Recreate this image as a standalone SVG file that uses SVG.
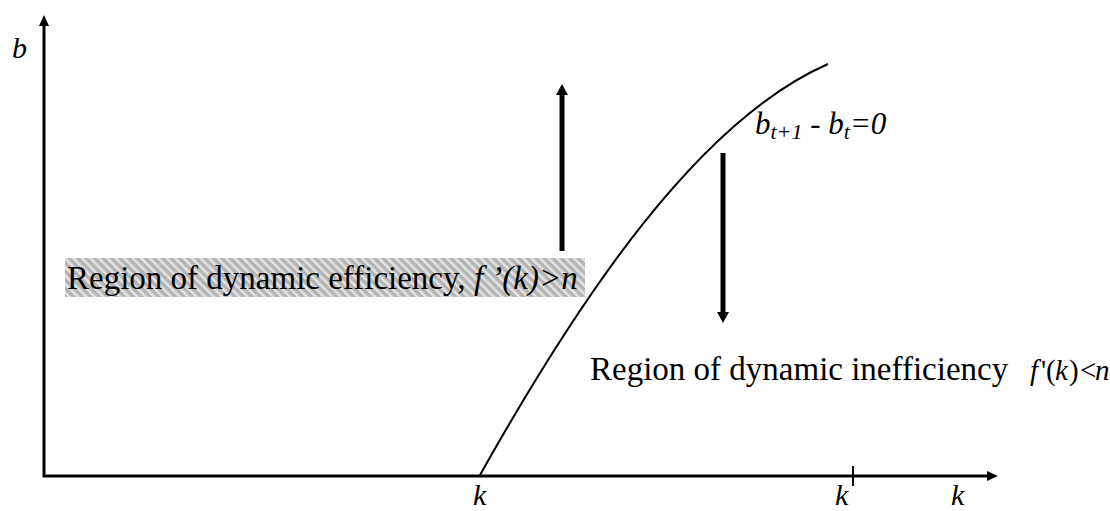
<svg xmlns="http://www.w3.org/2000/svg" width="1110" height="511" viewBox="0 0 1110 511">
<style>
.t{font-family:"Liberation Serif","Times New Roman",serif;fill:#000}
.i{font-style:italic}
.ax{stroke:#000;stroke-width:3;fill:none}
.arr{stroke:#000;stroke-width:5;fill:none}
</style>
<defs>
<pattern id="hatch" width="6" height="6" patternUnits="userSpaceOnUse" patternTransform="rotate(-45)">
<rect width="6" height="6" fill="#b4b4b4"/>
<rect width="2.5" height="6" fill="#e4e4e4"/>
</pattern>
<marker id="axh" markerWidth="11" markerHeight="10" refX="0" refY="5" orient="auto" markerUnits="userSpaceOnUse">
<path d="M0,0 L11,5 L0,10 Z" fill="#000"/>
</marker>
<marker id="ah" markerWidth="11" markerHeight="12" refX="0" refY="6" orient="auto" markerUnits="userSpaceOnUse">
<path d="M0,0 L11,6 L0,12 Z" fill="#000"/>
</marker>
</defs>
<g id="axes">
<line class="ax" x1="44" y1="477" x2="44" y2="26" marker-end="url(#axh)"/>
<line class="ax" x1="43" y1="476" x2="987" y2="476" marker-end="url(#axh)"/>
<line stroke="#000" stroke-width="2" x1="853" y1="466" x2="853" y2="486"/>
<text class="t i" x="12" y="58" font-size="30">b</text>
<text class="t i" x="473" y="505" font-size="30">k</text>
<text class="t i" x="835" y="505" font-size="30">k</text>
<text class="t i" x="951" y="505" font-size="30">k</text>
</g>
<g id="region-efficient">
<rect x="65" y="258" width="520" height="39" fill="url(#hatch)"/>
<text class="t" x="67" y="289" font-size="33">Region of dynamic efficiency, <tspan class="i">f ’(k)&gt;n</tspan></text>
</g>
<g id="connectors">
<path d="M480,475 C580,297 698,121 828,64" stroke="#000" stroke-width="2" fill="none"/>
<line class="arr" x1="562" y1="251" x2="562" y2="95" marker-end="url(#ah)"/>
<line class="arr" x1="723" y1="153" x2="723" y2="312" marker-end="url(#ah)"/>
</g>
<g id="curve-label">
<text class="t i" x="755" y="134" font-size="31">b<tspan font-size="22" dy="5">t+1</tspan><tspan dy="-5"> - b</tspan><tspan font-size="22" dy="5">t</tspan><tspan dy="-5">=0</tspan></text>
</g>
<g id="region-inefficient">
<text class="t" x="590" y="380" font-size="33">Region of dynamic inefficiency</text>
<text class="t" y="380" font-size="29"><tspan class="i" x="1030">f</tspan><tspan x="1041">'</tspan><tspan x="1046">(</tspan><tspan class="i" x="1055">k</tspan><tspan x="1069">)</tspan><tspan x="1080">&lt;</tspan><tspan class="i" x="1095">n</tspan></text>
</g>
</svg>
